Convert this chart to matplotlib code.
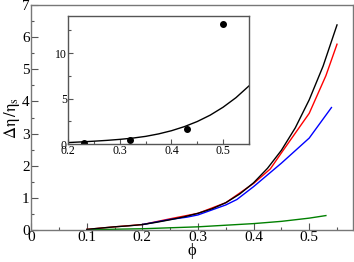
import matplotlib
matplotlib.use("Agg")
import matplotlib.pyplot as plt
from matplotlib.ticker import MultipleLocator

plt.rcParams['font.family'] = ['Liberation Serif', 'DejaVu Serif']
plt.rcParams['mathtext.fontset'] = 'stix'

# main curves
phi_black = [0.1, 0.125, 0.15, 0.175, 0.2, 0.225, 0.25, 0.275, 0.3, 0.325, 0.35,
             0.375, 0.4, 0.425, 0.45, 0.475, 0.5, 0.525, 0.55]
eta_black = [0.02, 0.06, 0.1, 0.13, 0.17, 0.24, 0.32, 0.41, 0.52, 0.66, 0.85,
             1.12, 1.47, 1.92, 2.48, 3.18, 4.05, 5.1, 6.38]
phi_red = [0.1, 0.15, 0.2, 0.25, 0.3, 0.35, 0.4, 0.43, 0.45, 0.5, 0.53, 0.55]
eta_red = [0.02, 0.1, 0.17, 0.35, 0.52, 0.85, 1.45, 1.9, 2.4, 3.63, 4.8, 5.78]
phi_blue = [0.2, 0.25, 0.28, 0.3, 0.35, 0.37, 0.4, 0.45, 0.5, 0.54]
eta_blue = [0.17, 0.33, 0.4, 0.47, 0.78, 0.95, 1.35, 2.08, 2.86, 3.81]
phi_green = [0.1, 0.2, 0.3, 0.4, 0.45, 0.5, 0.53]
eta_green = [0.01, 0.04, 0.1, 0.2, 0.27, 0.37, 0.45]

# inset points
phi_pts = [0.23, 0.32, 0.43, 0.5]
eta_pts = [0.15, 0.4, 1.65, 13.2]

fig = plt.figure(figsize=(3.54, 2.62), dpi=100)
ax = fig.add_axes([0.088, 0.122, 0.908, 0.859])
ax.plot(phi_red, eta_red, color='red', lw=1)
ax.plot(phi_blue, eta_blue, color='blue', lw=1)
ax.plot(phi_green, eta_green, color='green', lw=1)
ax.plot(phi_black, eta_black, color='black', lw=1)
ax.set_xlim(0, 0.578)
ax.set_ylim(0, 7)
ax.xaxis.set_major_locator(MultipleLocator(0.1))
ax.xaxis.set_minor_locator(MultipleLocator(0.05))
ax.yaxis.set_major_locator(MultipleLocator(1))
ax.yaxis.set_minor_locator(MultipleLocator(0.5))
ax.set_xticks([0, 0.1, 0.2, 0.3, 0.4, 0.5])
ax.set_xticklabels(['0', '0.1', '0.2', '0.3', '0.4', '0.5'])
ax.tick_params(direction='in', labelsize=11, length=5, width=0.8, color='#555555', pad=1)
ax.tick_params(which='minor', direction='in', length=2.5, width=0.8, color='#555555')
for s in ax.spines.values():
    s.set_color('#777777')
    s.set_linewidth(1)
ax.set_xlabel('\u03d5', fontsize=12, labelpad=-1)
ax.set_ylabel(r'$\mathrm{\Delta\eta\,/\eta_s}$', fontsize=12, labelpad=0)

ins = fig.add_axes([0.193, 0.450, 0.510, 0.490])
ins.plot(phi_black, eta_black, color='black', lw=1)
ins.plot(phi_pts, eta_pts, 'o', color='black', ms=4, ls='none')
ins.set_xlim(0.2, 0.55)
ins.set_ylim(0, 14.1)
ins.xaxis.set_major_locator(MultipleLocator(0.1))
ins.xaxis.set_minor_locator(MultipleLocator(0.05))
ins.yaxis.set_major_locator(MultipleLocator(5))
ins.yaxis.set_minor_locator(MultipleLocator(2.5))
ins.tick_params(direction='in', labelsize=8.5, length=3.5, width=0.8, color='#555555', pad=1)
ins.tick_params(which='minor', direction='in', length=2, width=0.8, color='#555555')
for s in ins.spines.values():
    s.set_color('#555555')
    s.set_linewidth(1)

fig.savefig('out.png', dpi=100)
